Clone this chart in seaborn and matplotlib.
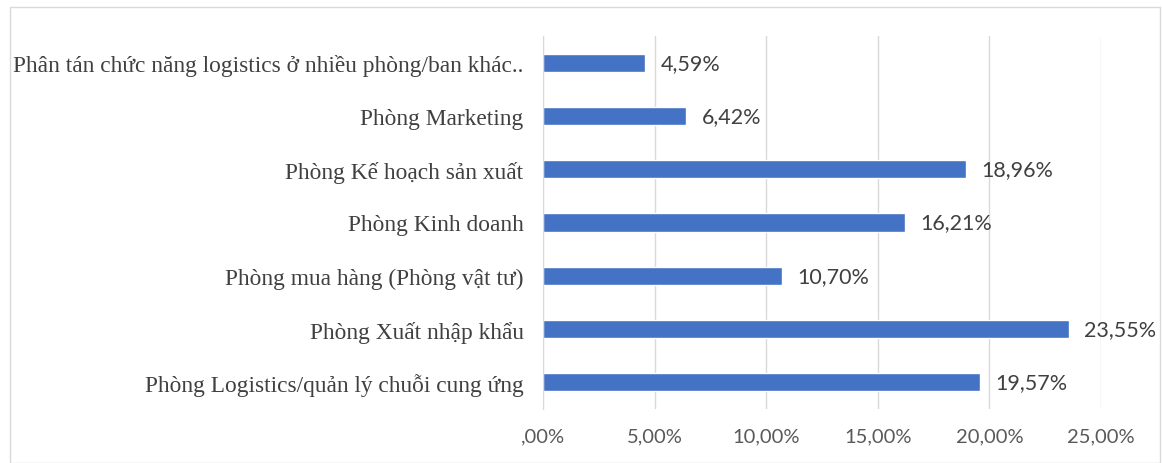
import matplotlib
matplotlib.use("Agg")
import matplotlib.pyplot as plt
import seaborn as sns
import pandas as pd
from matplotlib.patches import Rectangle

# --- data (top to bottom as shown) ---
departments = [
    "Phân tán chức năng logistics ở nhiều phòng/ban khác..",
    "Phòng Marketing",
    "Phòng Kế hoạch sản xuất",
    "Phòng Kinh doanh",
    "Phòng mua hàng (Phòng vật tư)",
    "Phòng Xuất nhập khẩu",
    "Phòng Logistics/quản lý chuỗi cung ứng",
]
shares = [0.0459, 0.0642, 0.1896, 0.1621, 0.1070, 0.2355, 0.1957]
x_ticks = [0.0, 0.05, 0.10, 0.15, 0.20, 0.25]
x_tick_labels = [",00%", "5,00%", "10,00%", "15,00%", "20,00%", "25,00%"]

df = pd.DataFrame({"dept": departments, "share": shares})

sns.set_style("white")
plt.rcParams["font.family"] = ["Lato", "DejaVu Sans"]

fig = plt.figure(figsize=(11.62, 4.64), dpi=100)
ax = fig.add_axes([543 / 1162, 1 - 410 / 464, (1101 - 543) / 1162, (410 - 37) / 464])

# light frame around the whole chart
fig.patches.append(Rectangle((10 / 1162, 0), 1 - 12 / 1162, 1 - 8 / 464,
                             transform=fig.transFigure, fill=False,
                             edgecolor="#d9d9d9", linewidth=1))

sns.barplot(data=df, x="share", y="dept", orient="h", color="#4472C4",
            width=0.34, ax=ax, saturation=1)

ax.set_xlim(0, 0.25)
ax.set_xticks(x_ticks)
ax.set_xticklabels(x_tick_labels, fontsize=14.5, color="#595959")
ax.grid(axis="x", color="#d9d9d9", linewidth=1)
ax.set_axisbelow(True)
for side in ["top", "right", "bottom"]:
    ax.spines[side].set_visible(False)
ax.spines["left"].set_color("#d9d9d9")
ax.tick_params(axis="x", length=0, pad=13)
ax.tick_params(axis="y", length=0, pad=14)
ax.set_yticks(range(len(departments)))
ax.set_yticklabels(departments, fontsize=16.8, color="#404040",
                   family=["Liberation Serif", "DejaVu Serif"])
ax.set_xlabel("")
ax.set_ylabel("")

for i, v in enumerate(shares):
    txt = f"{v * 100:.2f}%".replace(".", ",")
    ax.annotate(txt, xy=(v, i), xytext=(11, 0), textcoords="offset points",
                va="center", ha="left", fontsize=15.5, color="#404040",
                annotation_clip=False)

fig.savefig("out.png", dpi=100)
